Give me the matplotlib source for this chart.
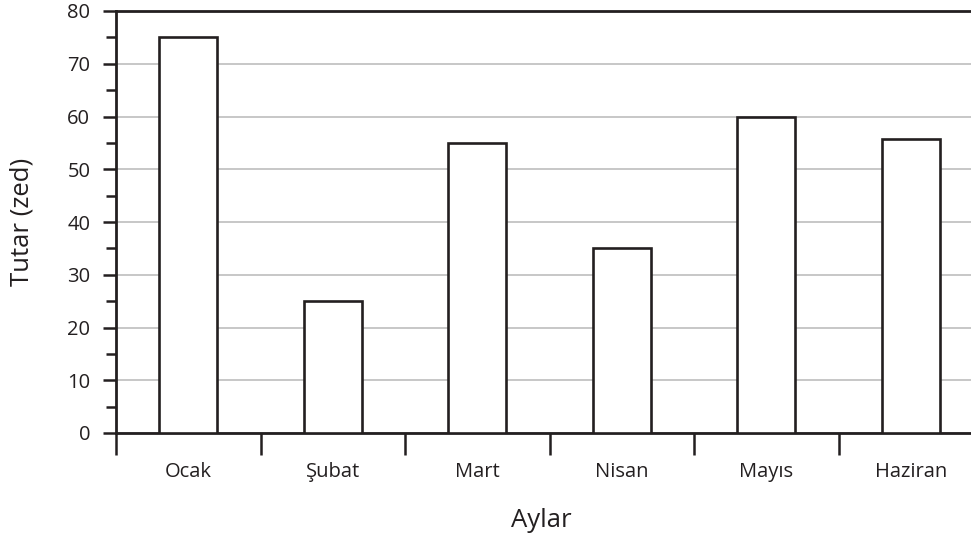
import matplotlib.pyplot as plt
from matplotlib.ticker import MultipleLocator, FixedLocator

aylar = ['Ocak', 'Şubat', 'Mart', 'Nisan', 'Mayıs', 'Haziran']
tutar = [75, 25, 55, 35, 60, 55.7]

plt.rcParams['font.family'] = ['Open Sans', 'DejaVu Sans']
koyu = '#231f20'

fig = plt.figure(figsize=(9.71, 5.38), dpi=100)
ax = fig.add_axes([116 / 971, 105 / 538, 867 / 971, 422 / 538])

x = list(range(len(aylar)))
ax.bar(x, tutar, width=0.4, color='white', edgecolor=koyu, linewidth=1.9, zorder=3)

ax.set_xlim(-0.5, len(aylar) - 0.5)
ax.set_ylim(0, 80)

# y ekseni
ax.yaxis.set_major_locator(MultipleLocator(10))
ax.yaxis.set_minor_locator(MultipleLocator(5))
ax.tick_params(axis='y', which='major', direction='out', length=9.5, width=1.8,
               color=koyu, labelsize=14.5, labelcolor=koyu, pad=9)
ax.tick_params(axis='y', which='minor', direction='out', length=7, width=1.8, color=koyu)
ax.grid(axis='y', which='major', color='#b8b8b8', linewidth=1.1, zorder=0)

# x ekseni: etiketler ortada, çizgiler kategori sınırlarında
ax.set_xticks(x)
ax.set_xticklabels(aylar)
ax.xaxis.set_minor_locator(FixedLocator([i - 0.5 for i in range(len(aylar) + 1)]))
ax.tick_params(axis='x', which='major', length=0, labelsize=14.5, labelcolor=koyu, pad=21)
ax.tick_params(axis='x', which='minor', direction='out', length=16, width=1.8, color=koyu)

for s in ['left', 'bottom', 'top']:
    ax.spines[s].set_color(koyu)
    ax.spines[s].set_linewidth(2)
ax.spines['right'].set_visible(False)

ax.set_ylabel('Tutar (zed)', fontsize=18.5, color=koyu)
ax.yaxis.set_label_coords(-(116 - 35) / 867, 0.5)
ax.set_xlabel('Aylar', fontsize=18.5, color=koyu)
ax.xaxis.set_label_coords((541 - 116) / 867, -(508 - 433) / 422)

fig.savefig('out.png', dpi=100)
